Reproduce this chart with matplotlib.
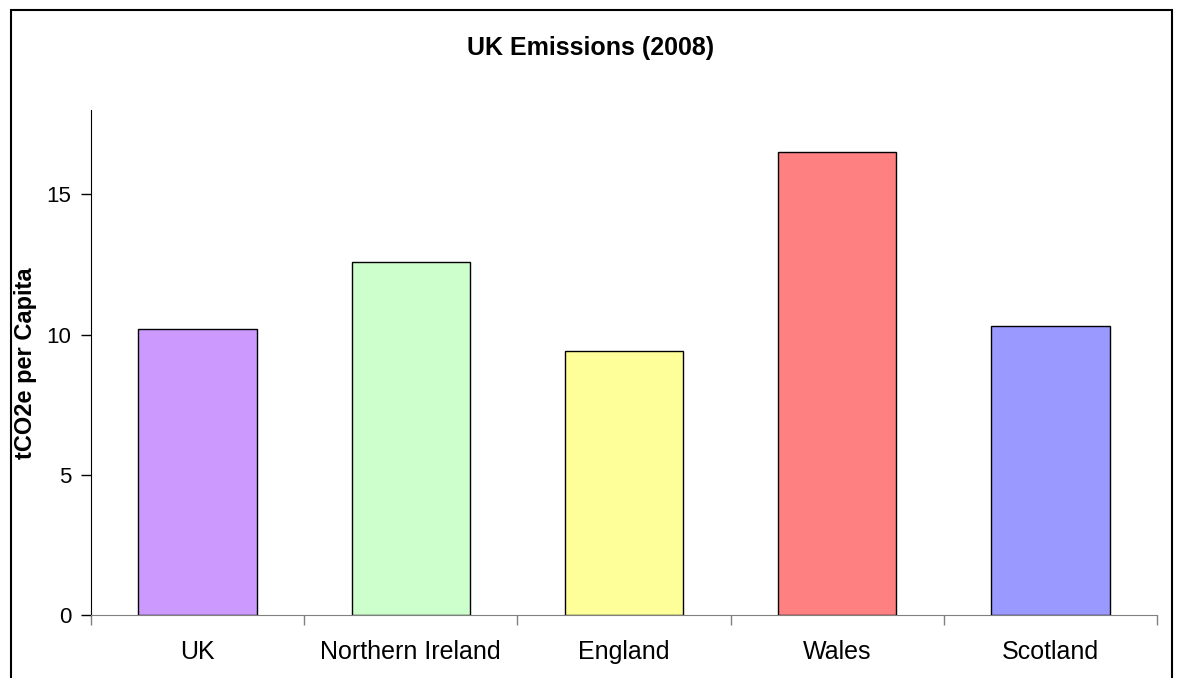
import numpy as np
import matplotlib
matplotlib.use('Agg')
import matplotlib.pyplot as plt
from matplotlib.patches import Rectangle

# ── data ──────────────────────────────────────────────────────────────────────
regions = ["UK", "Northern Ireland", "England", "Wales", "Scotland"]
per_capita = [10.2, 12.6, 9.4, 16.5, 10.3]
bar_colors = ["#CC99FF", "#CCFFCC", "#FFFF99", "#FF8080", "#9999FF"]
y_ticks = [0, 5, 10, 15]

plt.rcParams['font.family'] = ['Liberation Sans', 'DejaVu Sans']

fig = plt.figure(figsize=(11.79, 6.78), dpi=100, facecolor='white')
ax = fig.add_axes([0.0772, 0.0922, 0.9041, 0.7456])

x = np.arange(len(regions))
ax.bar(x, per_capita, width=0.555, color=bar_colors, edgecolor='black', linewidth=1.0)

ax.set_xlim(-0.5, len(regions) - 0.5)
ax.set_ylim(0, 18)

# y axis
ax.set_yticks(y_ticks)
ax.tick_params(axis='y', direction='out', length=7, width=1, labelsize=16, pad=7, colors='black')

# x axis: labels at centres, tick marks between categories
ax.set_xticks(x)
ax.set_xticklabels(regions)
ax.set_xticks(np.arange(-0.5, len(regions)), minor=True)
ax.tick_params(axis='x', which='major', length=0, labelsize=18, pad=18)
ax.tick_params(axis='x', which='minor', direction='out', length=7, width=1, color='#808080')

for side in ['top', 'right']:
    ax.spines[side].set_visible(False)
ax.spines['left'].set_color('black')
ax.spines['bottom'].set_color('#808080')

fig.text(26 / 1179, 1 - 363 / 678, "tCO2e per Capita", rotation=90, ha='center', va='center',
         fontsize=17, fontweight='bold')
fig.text(0.5013, 1 - 48 / 678, "UK Emissions (2008)", ha='center', va='center',
         fontsize=18, fontweight='bold')

# outer chart frame
fig.patches.append(Rectangle((11 / 1179, -0.05), (1172 - 11) / 1179, 1.05 - 10 / 678,
                             transform=fig.transFigure, fill=False,
                             edgecolor='black', linewidth=1.5))

plt.savefig('out.png', dpi=100, facecolor=fig.get_facecolor())
plt.close()
